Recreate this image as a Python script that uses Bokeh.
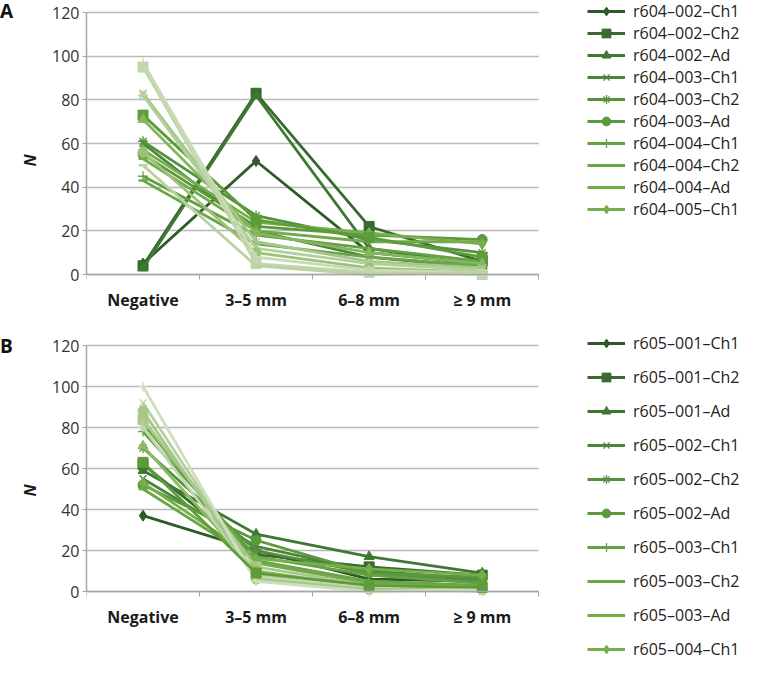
from bokeh.plotting import figure
from bokeh.layouts import column, row
from bokeh.models import Range1d, FixedTicker, Legend, LegendItem, Div, BoxAnnotation
from bokeh.embed import file_html
from bokeh.resources import INLINE

# ---------------- data ----------------
categories = ["Negative", "3–5 mm", "6–8 mm", "≥ 9 mm"]
y_ticks = [0, 20, 40, 60, 80, 100, 120]

# Panel A (r604) – one array per size class, one entry per series
a_names = ["r604–002–Ch1", "r604–002–Ch2", "r604–002–Ad", "r604–003–Ch1",
           "r604–003–Ch2", "r604–003–Ad", "r604–004–Ch1", "r604–004–Ch2",
           "r604–004–Ad", "r604–005–Ch1"]
a_negative = [5, 4, 3, 60, 61, 55, 45, 43, 53, 57, 73, 71, 83, 82, 56, 97, 95, 50]
a_3_5 = [52, 83, 82, 20, 27, 22, 18, 14, 20, 24, 25, 19, 15, 12, 10, 8, 5, 4]
a_6_8 = [10, 22, 12, 8, 16, 18, 12, 8, 15, 19, 17, 10, 6, 5, 3, 2, 1, 0]
a_ge9 = [5, 6, 4, 3, 10, 16, 6, 4, 15, 14, 8, 5, 3, 2, 1, 1, 0, 1]

# Panel B (r605)
b_names = ["r605–001–Ch1", "r605–001–Ch2", "r605–001–Ad", "r605–002–Ch1",
           "r605–002–Ch2", "r605–002–Ad", "r605–003–Ch1", "r605–003–Ch2",
           "r605–003–Ad", "r605–004–Ch1"]
b_negative = [37, 62, 59, 55, 70, 52, 78, 50, 82, 53, 84, 71, 92, 80, 88, 100, 63]
b_3_5 = [20, 18, 28, 22, 20, 25, 17, 15, 14, 16, 12, 10, 8, 7, 6, 5, 9]
b_6_8 = [6, 12, 17, 10, 9, 9, 8, 5, 4, 11, 3, 2, 1, 2, 1, 0, 3]
b_ge9 = [5, 8, 9, 6, 5, 7, 4, 3, 2, 8, 2, 1, 1, 0, 1, 1, 2]

# ---------------- styles ----------------
a_colors = ["#2d5a27", "#386a30", "#3f7834", "#4b863a", "#55913f", "#5b9a3c",
            "#63a142", "#6aa646", "#70aa4a", "#77af4d", "#5d9c38", "#84b75c",
            "#a5c88a", "#b3d09b", "#9cc27a", "#c9dbb4", "#c2d6ab", "#bcd2a4"]
a_markers = ["diamond", "square", "triangle", "x", "asterisk", "circle", "cross",
             "dash", "dash", "diamond", "square", "triangle", "x", "asterisk",
             "circle", "cross", "square", "dash"]
b_colors = ["#2d5a27", "#386a30", "#3f7834", "#4b863a", "#55913f", "#5b9a3c",
            "#63a142", "#6aa646", "#70aa4a", "#77af4d", "#a9c98c", "#8dbb63",
            "#b6d09e", "#c2d7ae", "#a5c88a", "#cddfbd", "#5d9c38"]
b_markers = ["diamond", "square", "triangle", "x", "asterisk", "circle", "cross",
             "dash", "dash", "diamond", "square", "triangle", "x", "asterisk",
             "circle", "cross", "square"]

FONT = "Open Sans"
LETTER_W = 16
MAIN_W = 728
LEFT = 63          # px reserved for the y axis
DATA_W = 457       # px width of the category area
Y_MAX = 120


def add_series(p, xs, ys, color, mk):
    lr = p.line(xs, ys, line_color=color, line_width=2.8)
    if mk in ("x", "asterisk", "cross"):
        sr = p.scatter(xs, ys, marker=mk, size=10, line_color=color,
                       line_width=1.3, fill_color=None)
    elif mk == "dash":
        sr = p.scatter(xs, ys, marker="dash", size=9, line_color=color, line_width=2.5)
    else:
        sz = {"diamond": 11, "square": 10, "triangle": 10, "circle": 10}[mk]
        sr = p.scatter(xs, ys, marker=mk, size=sz, line_color=color, fill_color=color)
    return lr, sr


def make_panel(letter, letter_pad, names, cols, colors, markers, height,
               grid_top, grid_bottom, leg_top, spacing):
    """grid_top / grid_bottom: px (from the figure top) of the 120 and 0 lines;
    leg_top: px of the legend's top edge."""
    ppu = (grid_bottom - grid_top) / Y_MAX
    y_start = -(height - grid_bottom) / ppu
    y_end = Y_MAX + grid_top / ppu
    frame_w = MAIN_W - LEFT
    x_end = len(categories) * frame_w / DATA_W

    # ---- panel letter ----
    div = Div(text=letter, width=LETTER_W, height=height, margin=(0, 0, 0, 0),
              styles={"font-family": FONT, "font-weight": "bold", "font-size": "19px",
                      "line-height": "1.2", "color": "#111111", "overflow": "visible",
                      "padding-top": f"{letter_pad}px"})

    # ---- chart (frame spans plot area + legend area) ----
    p = figure(width=MAIN_W, height=height, output_backend="svg", toolbar_location=None,
               x_range=Range1d(0, x_end), y_range=Range1d(y_start, y_end),
               min_border_left=LEFT, min_border_right=0, min_border_top=0,
               min_border_bottom=0)
    p.outline_line_color = None

    xs = [i + 0.5 for i in range(len(categories))]
    p.xaxis.fixed_location = 0
    p.xaxis.bounds = (0, len(categories))
    p.xaxis.ticker = FixedTicker(ticks=xs, minor_ticks=list(range(len(categories) + 1)))
    p.xaxis.major_label_overrides = {x: c for x, c in zip(xs, categories)}
    p.xaxis.major_tick_line_color = None
    p.xaxis.minor_tick_line_color = "#a6a6a6"
    p.xaxis.minor_tick_out = 5
    p.xaxis.minor_tick_in = 0
    p.xaxis.axis_line_color = "#a6a6a6"
    p.xaxis.axis_line_width = 1.5
    p.xaxis.major_label_text_font = FONT
    p.xaxis.major_label_text_font_style = "bold"
    p.xaxis.major_label_text_font_size = "16px"
    p.xaxis.major_label_text_color = "#1a1a1a"
    p.xaxis.major_label_standoff = 8

    p.yaxis.ticker = FixedTicker(ticks=y_ticks)
    p.yaxis.bounds = (0, Y_MAX)
    p.yaxis.minor_tick_line_color = None
    p.yaxis.major_tick_line_color = "#a6a6a6"
    p.yaxis.major_tick_out = 4
    p.yaxis.major_tick_in = 0
    p.yaxis.axis_line_color = "#a6a6a6"
    p.yaxis.axis_line_width = 1.5
    p.yaxis.major_label_text_font = FONT
    p.yaxis.major_label_text_font_size = "16px"
    p.yaxis.major_label_text_color = "#333333"
    p.yaxis.major_label_standoff = 3
    p.yaxis.axis_label = "N"
    p.yaxis.axis_label_text_font = FONT
    p.yaxis.axis_label_text_font_style = "bold italic"
    p.yaxis.axis_label_text_font_size = "16px"
    p.yaxis.axis_label_text_color = "#1a1a1a"
    p.yaxis.axis_label_standoff = 8

    p.xgrid.grid_line_color = None
    p.ygrid.ticker = FixedTicker(ticks=y_ticks)
    p.ygrid.grid_line_color = "#b9b9b9"
    p.ygrid.grid_line_width = 1.5
    # gridlines stop at the end of the category area
    p.add_layout(BoxAnnotation(left=len(categories), fill_color="white", fill_alpha=1,
                               line_color=None, level="underlay"))

    items = []
    n = len(cols[0])
    for i in range(n):
        ys = [c[i] for c in cols]
        lr, sr = add_series(p, xs, ys, colors[i], markers[i])
        if i < len(names):
            items.append(LegendItem(label=names[i], renderers=[lr, sr]))

    legend_h = len(items) * 22 + (len(items) - 1) * spacing
    leg = Legend(items=items, location=(DATA_W + 44, height - leg_top - legend_h),
                 orientation="vertical",
                 padding=0, margin=0, spacing=spacing, label_height=22,
                 glyph_height=22, glyph_width=38, label_standoff=8,
                 label_text_font=FONT, label_text_font_size="16px",
                 label_text_color="#222222", border_line_color=None,
                 background_fill_alpha=0)
    p.add_layout(leg)

    return row(div, p, spacing=0)


rowA = make_panel("A", 0, a_names, [a_negative, a_3_5, a_6_8, a_ge9], a_colors, a_markers,
                  height=320, grid_top=12, grid_bottom=274, leg_top=0, spacing=0)
rowB = make_panel("B", 15, b_names, [b_negative, b_3_5, b_6_8, b_ge9], b_colors, b_markers,
                  height=340, grid_top=25, grid_bottom=271, leg_top=12, spacing=12)

layout = column(rowA, rowB, spacing=0)
open("out.html", "w").write(file_html(layout, INLINE))
